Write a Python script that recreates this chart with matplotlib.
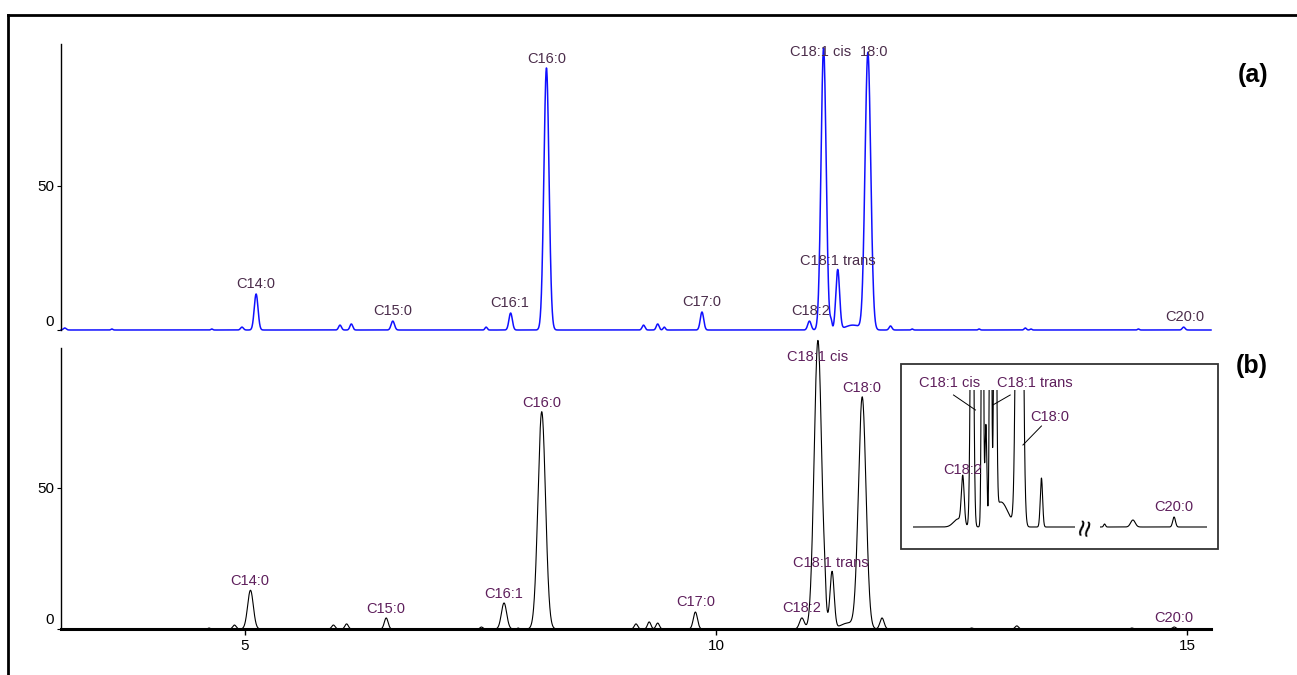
import numpy as np
import matplotlib
matplotlib.use("Agg")
import matplotlib.pyplot as plt
from matplotlib.lines import Line2D
from matplotlib.patches import Rectangle
from matplotlib.transforms import ScaledTranslation

plt.rcParams['font.family'] = ['Liberation Sans', 'DejaVu Sans']

W, H = 1297, 675

# (a) peaks: retention time (min), height, width (sigma)
times_a = [3.09, 3.59, 4.65, 4.97, 5.12, 6.01, 6.13, 6.57, 7.56, 7.82, 8.20, 9.23, 9.38, 9.45,
           9.85, 10.99, 11.14, 11.22, 11.29, 11.45, 11.61, 11.85, 12.08, 12.79, 13.28, 13.34,
           14.48, 14.96]
heights_a = [0.7, 0.35, 0.35, 1.0, 12.5, 1.7, 2.1, 3.1, 1.0, 5.9, 91.0, 1.7, 2.1, 1.0,
             6.25, 3.1, 97.9, 2.8, 20.8, 1.7, 96.2, 1.4, 0.35, 0.35, 0.7, 0.35,
             0.35, 1.0]
widths_a = [0.015, 0.01, 0.01, 0.015, 0.02, 0.015, 0.015, 0.018, 0.012, 0.018, 0.027, 0.015, 0.015, 0.012,
            0.018, 0.018, 0.027, 0.01, 0.02, 0.08, 0.03, 0.015, 0.01, 0.01, 0.012, 0.01,
            0.01, 0.015]

# (b) peaks
times_b = [4.62, 4.89, 5.06, 5.94, 6.08, 6.50, 7.51, 7.75, 7.90, 8.15, 9.15, 9.29, 9.38,
           9.78, 10.91, 11.08, 11.15, 11.23, 11.40, 11.55, 11.76, 12.71, 13.19, 14.41, 14.86]
heights_b = [0.35, 1.4, 13.7, 1.4, 1.8, 3.9, 0.7, 9.2, 0.35, 76.8, 1.8, 2.5, 2.1,
             6.0, 3.9, 102.0, 5.3, 20.1, 2.1, 81.7, 3.9, 0.35, 1.1, 0.35, 0.7]
widths_b = [0.012, 0.018, 0.03, 0.018, 0.018, 0.02, 0.015, 0.028, 0.01, 0.04, 0.018, 0.018, 0.018,
            0.022, 0.025, 0.04, 0.012, 0.022, 0.08, 0.04, 0.022, 0.015, 0.018, 0.015, 0.018]

# peak labels
labels_a = ['C14:0', 'C15:0', 'C16:1', 'C16:0', 'C17:0', 'C18:2', 'C18:1 cis', '18:0', 'C18:1 trans', 'C20:0']
label_x_a = [5.12, 6.57, 7.81, 8.20, 9.85, 11.00, 11.11, 11.68, 11.29, 14.97]
label_y_a = [16.0, 6.6, 9.4, 94.1, 9.7, 6.6, 96.5, 96.5, 24.0, 4.5]

labels_b = ['C14:0', 'C15:0', 'C16:1', 'C16:0', 'C17:0', 'C18:2', 'C18:1 cis', 'C18:1 trans', 'C18:0', 'C20:0']
label_x_b = [5.05, 6.50, 7.75, 8.15, 9.78, 10.91, 11.08, 11.22, 11.55, 14.86]
label_y_b = [16.9, 7.0, 12.3, 79.9, 9.5, 7.4, 96.1, 23.2, 85.2, 3.9]

# inset (expanded C18 region and C20:0 region)
times_in1 = [10.99, 11.03, 11.11, 11.20, 11.23, 11.27, 11.31, 11.36, 11.52, 11.71]
heights_in1 = [8, 47, 400, 400, 100, 400, 400, 25, 1000, 49]
widths_in1 = [0.04, 0.012, 0.012, 0.008, 0.008, 0.008, 0.01, 0.06, 0.02, 0.01]
times_in2 = [14.10, 14.41, 14.86]
heights_in2 = [3, 7, 10]
widths_in2 = [0.01, 0.025, 0.015]

inset_labels = ['C18:1 cis', 'C18:1 trans', 'C18:0', 'C18:2']
inset_label_x = [10.92, 11.65, 11.78, 11.03]
inset_label_y = [144, 144, 110, 57]
inset_leader_x = [(10.95, 11.14), (11.44, 11.29), (11.71, 11.55)]
inset_leader_y = [(132, 117), (132, 122), (101, 82)]

LABEL_SIZE = 10.5
TICK_SIZE = 11


def trace(t, times, heights, widths):
    y = np.zeros_like(t)
    for c, h, s in zip(times, heights, widths):
        y += h * np.exp(-0.5 * ((t - c) / s) ** 2)
    return y


def px_rect(x0, y0, x1, y1):
    return [x0 / W, 1 - y1 / H, (x1 - x0) / W, (y1 - y0) / H]


fig = plt.figure(figsize=(W / 100, H / 100), dpi=100)

t = np.linspace(3.05, 15.25, 6000)
ax_a = fig.add_axes(px_rect(61, 44, 1211, 330))
ax_b = fig.add_axes(px_rect(61, 348, 1211, 629))

ax_a.plot(t, trace(t, times_a, heights_a, widths_a), color='#1010ff', lw=1.1, clip_on=False)
ax_b.plot(t, trace(t, times_b, heights_b, widths_b), color='black', lw=0.8, clip_on=False)

for ax, labs, lx, ly, col in [(ax_a, labels_a, label_x_a, label_y_a, '#4b2d4b'),
                              (ax_b, labels_b, label_x_b, label_y_b, '#5e1f5c')]:
    ax.set_xlim(3.05, 15.25)
    ax.set_ylim(0, 99.3)
    for s in ['top', 'right']:
        ax.spines[s].set_visible(False)
    ax.spines['left'].set_linewidth(1.0)
    ax.set_yticks([0, 50], ['0', '50'])
    ax.tick_params(axis='y', length=3, width=0.8, pad=2, labelsize=TICK_SIZE)
    # the zero label sits a little above the baseline
    lab0 = ax.yaxis.get_major_ticks()[0].label1
    lab0.set_transform(lab0.get_transform() + ScaledTranslation(0, 0.10, fig.dpi_scale_trans))
    for s, x, y in zip(labs, lx, ly):
        ax.text(x, y, s, color=col, fontsize=LABEL_SIZE, ha='center', va='center')

ax_a.spines['bottom'].set_visible(False)
ax_a.set_xticks([])
ax_b.spines['bottom'].set_linewidth(2.2)
ax_b.set_xticks([5, 10, 15])
ax_b.tick_params(axis='x', length=4, width=1, pad=3, labelsize=TICK_SIZE)

fig.text(1253 / W, 1 - 75 / H, '(a)', fontsize=18, fontweight='bold', ha='center', va='center')
fig.text(1252 / W, 1 - 366 / H, '(b)', fontsize=18, fontweight='bold', ha='center', va='center')

# inset box
fig.add_artist(Rectangle((901 / W, 1 - 549 / H), 317 / W, 185 / H, transform=fig.transFigure,
                         fill=False, lw=1.3, edgecolor='#333333'))

ax_i1 = fig.add_axes(px_rect(913, 390, 1075, 540))
ax_i2 = fig.add_axes(px_rect(1100, 390, 1207, 540))
ti1 = np.linspace(10.6, 12.0, 1500)
ti2 = np.linspace(14.05, 15.22, 800)
ax_i1.plot(ti1, trace(ti1, times_in1, heights_in1, widths_in1), color='black', lw=0.8)
ax_i2.plot(ti2, trace(ti2, times_in2, heights_in2, widths_in2), color='black', lw=0.8)
ax_i1.set_xlim(10.6, 12.0)
ax_i2.set_xlim(14.05, 15.22)
for ax in (ax_i1, ax_i2):
    ax.set_ylim(-13, 137)
    ax.axis('off')
for s, x, y in zip(inset_labels, inset_label_x, inset_label_y):
    ax_i1.text(x, y, s, color='#5e1f5c', fontsize=LABEL_SIZE, ha='center', va='center', clip_on=False)
for lx, ly in zip(inset_leader_x, inset_leader_y):
    ax_i1.plot(lx, ly, color='black', lw=0.7, clip_on=False)
ax_i2.text(14.86, 20, 'C20:0', color='#5e1f5c', fontsize=LABEL_SIZE, ha='center', va='center', clip_on=False)
fig.text(1087 / W, 1 - 528 / H, '\u2248', fontsize=22, rotation=80, ha='center', va='center')

# outer frame (cropped at right and bottom)
fig.add_artist(Line2D([8 / W, 1], [1 - 15 / H, 1 - 15 / H], color='black', lw=2))
fig.add_artist(Line2D([8 / W, 8 / W], [0, 1 - 15 / H], color='black', lw=2))

fig.savefig('out.png', dpi=100)
